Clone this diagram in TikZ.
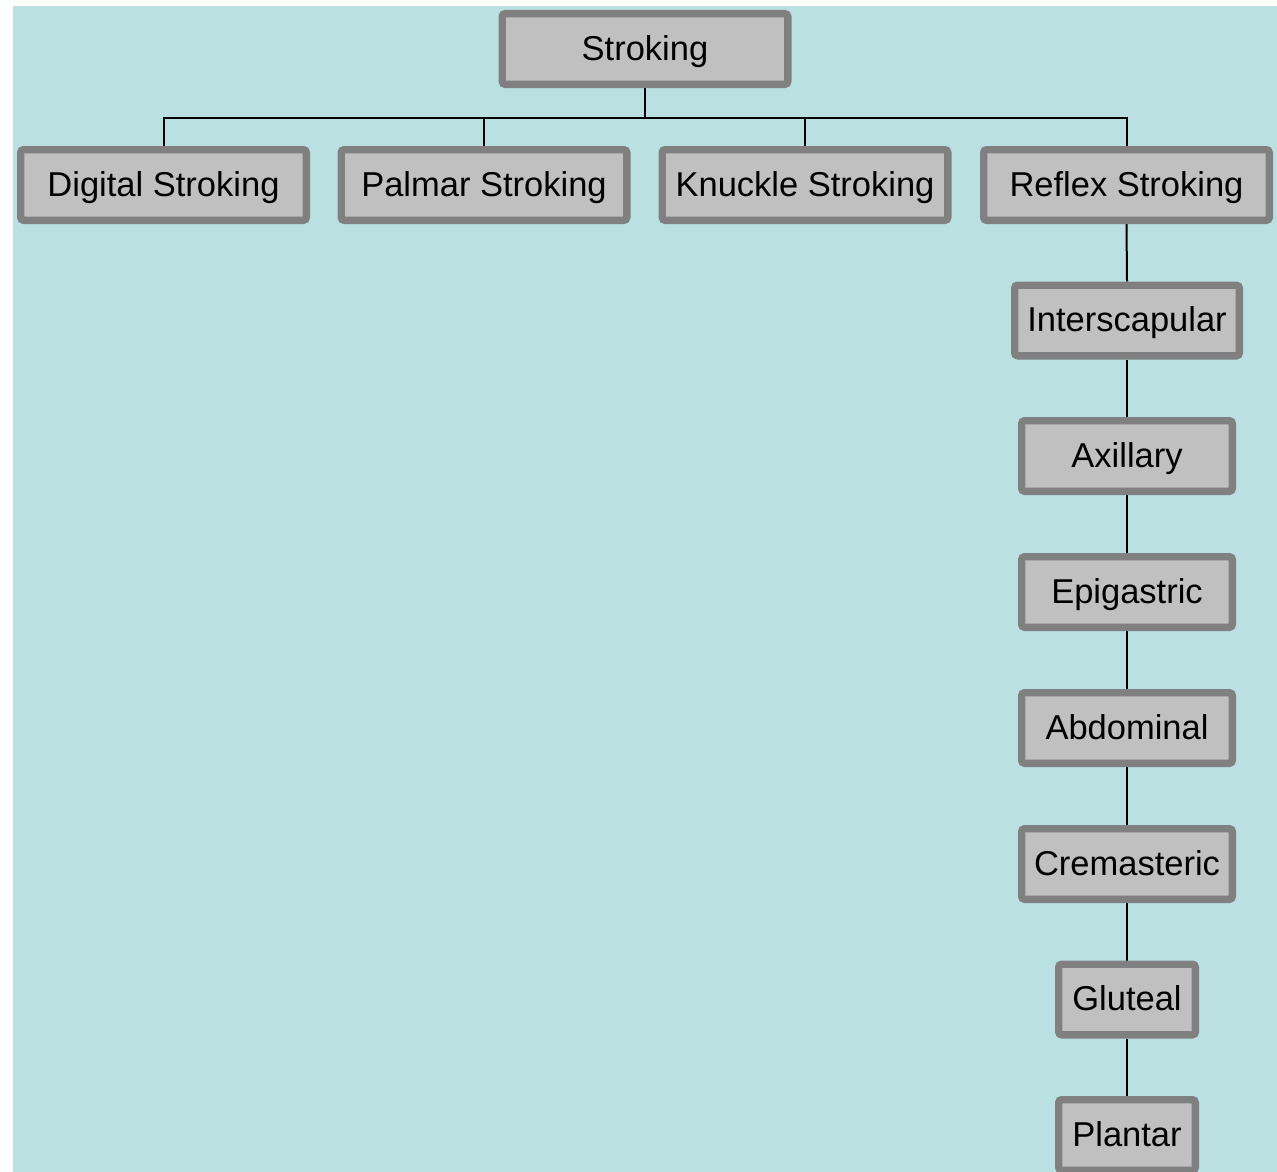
\documentclass[tikz,border=0pt]{standalone}
\usepackage{fontspec}
\setmainfont{Liberation Sans}
\definecolor{paper}{RGB}{186,224,226}
\definecolor{boxfill}{RGB}{192,192,192}
\definecolor{boxline}{RGB}{128,128,128}
\pgfdeclarelayer{bg}
\pgfsetlayers{bg,main}
\begin{document}
\begin{tikzpicture}[x=1pt,y=1pt,
  item/.style={draw=boxline, fill=boxfill, line width=7.3pt, rounded corners=3pt,
    inner sep=0pt, minimum height=70.7pt, text height=28pt, text depth=6pt,
    font=\fontsize{34.5}{40}\selectfont},
  wide/.style={item, minimum width=285.7pt},
  mid/.style={item, minimum width=224.7pt},
  narrow/.style={item, minimum width=210.7pt},
  small/.style={item, minimum width=136.7pt},
  link/.style={line width=2pt, black}]
\useasboundingbox (0,0) rectangle (1277,-1172);
\begin{scope}
\clip (0,0) rectangle (1277,-1172);
% top level
\node[wide] (root) at (645,-49) {Stroking};
% second level
\node[wide] (digital) at (163.5,-185) {Digital Stroking};
\node[wide] (palmar) at (484,-185) {Palmar Stroking};
\node[wide] (knuckle) at (805,-185) {Knuckle Stroking};
\node[wide] (reflex) at (1126.5,-185) {Reflex Stroking};
% reflex chain
\node[mid] (inter) at (1127,-320.5) {Interscapular};
\node[narrow] (axil) at (1127,-456) {Axillary};
\node[narrow] (epi) at (1127,-592) {Epigastric};
\node[narrow] (abdo) at (1127,-728) {Abdominal};
\node[narrow] (crem) at (1127,-864) {Cremasteric};
\node[small] (glut) at (1127,-999.5) {Gluteal};
\node[small] (plan) at (1127,-1135) {Plantar};
\coordinate (bus) at (645,-117.5);
\begin{pgfonlayer}{bg}
\fill[paper] (13,-6) rectangle (1277,-1172);
\draw[link] (root.south) -- (bus);
\draw[link] (bus) -| (digital.north);
\draw[link] (bus) -| (palmar.north);
\draw[link] (bus) -| (knuckle.north);
\draw[link] (bus) -| (reflex.north);
\draw[link] (reflex.south) -- (inter.north);
\draw[link] (inter.south) -- (axil.north);
\draw[link] (axil.south) -- (epi.north);
\draw[link] (epi.south) -- (abdo.north);
\draw[link] (abdo.south) -- (crem.north);
\draw[link] (crem.south) -- (glut.north);
\draw[link] (glut.south) -- (plan.north);
\end{pgfonlayer}
\end{scope}
\end{tikzpicture}
\end{document}
